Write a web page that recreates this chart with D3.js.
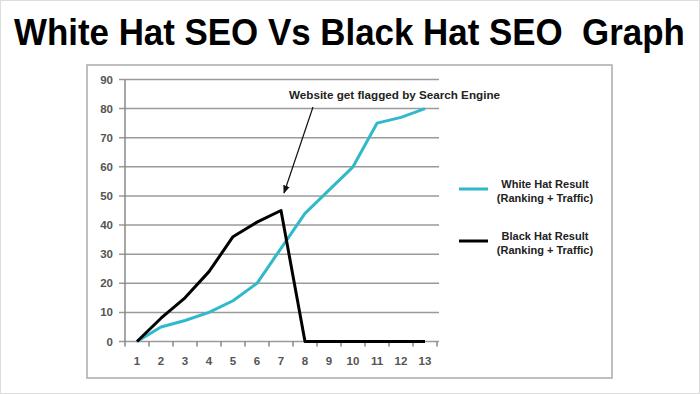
<!DOCTYPE html>
<html lang="en">
<head>
  <meta charset="UTF-8">
  <title>White Hat SEO Vs Black Hat SEO Graph</title>
  <script src="https://d3js.org/d3.v7.min.js"></script>
  <style>
    body { margin: 0; background: #fff; }
    svg { display: block; }
    .tick-label { font-family: "Liberation Sans", Arial, sans-serif; font-size: 11.5px; font-weight: bold; fill: #555; }
    .small { font-family: "Liberation Sans", Arial, sans-serif; font-size: 11px; font-weight: bold; fill: #222; }
  </style>
</head>
<body>
  <svg width="700" height="394"></svg>
  <script>
    const periods = [1, 2, 3, 4, 5, 6, 7, 8, 9, 10, 11, 12, 13];
    const whiteHat = [0, 5, 7.2, 10, 14, 20, 32, 44, 52, 60, 75, 77, 80];
    const blackHat = [0, 8, 15, 24, 36, 41, 45, 0, 0, 0, 0, 0, 0];
    const yTicks = [0, 10, 20, 30, 40, 50, 60, 70, 80, 90];
    const seriesNames = ["White Hat Result", "Black Hat Result"];
    const seriesSub = "(Ranking + Traffic)";
    const colors = ["#2fb9cb", "#000"];
    const title = "White Hat SEO Vs Black Hat SEO  Graph";
    const note = "Website get flagged by Search Engine";

    const svg = d3.select("svg");

    // page border
    svg.append("rect").attr("x", 0.5).attr("y", 0.5).attr("width", 699).attr("height", 393)
      .attr("fill", "none").attr("stroke", "#ddd");

    // title, squeezed horizontally to the reference width
    const t = svg.append("text")
      .style("white-space", "pre")
      .style("font-family", "'Liberation Sans', Arial, sans-serif")
      .style("font-weight", "bold").style("font-size", "37px")
      .text(title);
    const tw = t.node().getComputedTextLength();
    t.attr("transform", `translate(14,45) scale(${671 / tw},1)`);

    // chart frame
    svg.append("rect").attr("x", 87).attr("y", 65).attr("width", 525).attr("height", 313)
      .attr("fill", "none").attr("stroke", "#aaa").attr("stroke-width", 1.5);

    const x = d3.scaleBand().domain(periods).range([125, 437]);
    const y = d3.scaleLinear().domain([0, 90]).range([341.5, 79.5]);

    // gridlines
    svg.append("g").selectAll("line").data(yTicks).join("line")
      .attr("x1", 119).attr("x2", 439)
      .attr("y1", d => y(d)).attr("y2", d => y(d))
      .attr("stroke", "#9a9a9a").attr("stroke-width", 1.5);

    // y axis line
    svg.append("line").attr("x1", 125).attr("x2", 125).attr("y1", y(90)).attr("y2", y(0))
      .attr("stroke", "#888").attr("stroke-width", 1.5);

    // x axis ticks at category boundaries
    const bounds = periods.map(p => x(p)).concat([x.range()[1]]);
    svg.append("g").selectAll("line").data(bounds).join("line")
      .attr("x1", d => d).attr("x2", d => d)
      .attr("y1", y(0)).attr("y2", y(0) + 5)
      .attr("stroke", "#888").attr("stroke-width", 1.5);

    // y tick labels
    svg.append("g").selectAll("text").data(yTicks).join("text")
      .attr("class", "tick-label")
      .attr("x", 113).attr("y", d => y(d) + 4)
      .attr("text-anchor", "end")
      .text(d => d);

    // x tick labels
    svg.append("g").selectAll("text").data(periods).join("text")
      .attr("class", "tick-label")
      .attr("x", d => x(d) + x.bandwidth() / 2).attr("y", 365)
      .attr("text-anchor", "middle")
      .text(d => d);

    const line = d3.line()
      .x((d, i) => x(periods[i]) + x.bandwidth() / 2)
      .y(d => y(d));

    [whiteHat, blackHat].forEach((s, i) => {
      svg.append("path").datum(s)
        .attr("d", line)
        .attr("fill", "none")
        .attr("stroke", colors[i])
        .attr("stroke-width", 3)
        .attr("stroke-linejoin", "round");
    });

    // annotation
    svg.append("text").attr("class", "small")
      .attr("x", 289).attr("y", 99)
      .attr("textLength", 211).attr("lengthAdjust", "spacingAndGlyphs")
      .text(note);
    svg.append("defs").append("marker")
      .attr("id", "arr").attr("viewBox", "0 0 10 10")
      .attr("refX", 9).attr("refY", 5)
      .attr("markerWidth", 7).attr("markerHeight", 7)
      .attr("orient", "auto")
      .append("path").attr("d", "M0,1 L10,5 L0,9 Z").attr("fill", "#111");
    svg.append("line")
      .attr("x1", 313).attr("y1", 107).attr("x2", 284).attr("y2", 193)
      .attr("stroke", "#111").attr("stroke-width", 1.2)
      .attr("marker-end", "url(#arr)");

    // legend
    const legY = [189, 241];
    seriesNames.forEach((name, i) => {
      svg.append("line")
        .attr("x1", 459).attr("x2", 488)
        .attr("y1", legY[i]).attr("y2", legY[i])
        .attr("stroke", colors[i]).attr("stroke-width", 3);
      svg.append("text").attr("class", "small")
        .attr("x", 545).attr("y", legY[i] - 1)
        .attr("text-anchor", "middle").text(name);
      svg.append("text").attr("class", "small")
        .attr("x", 545).attr("y", legY[i] + 13)
        .attr("text-anchor", "middle").text(seriesSub);
    });
  </script>
</body>
</html>
